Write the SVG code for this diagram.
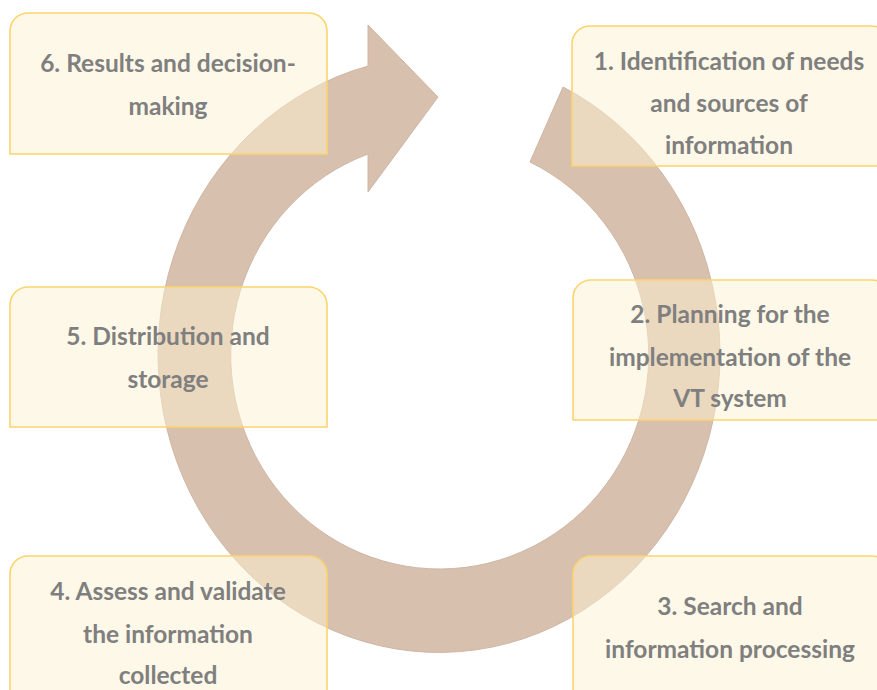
<svg xmlns="http://www.w3.org/2000/svg" width="877" height="690" viewBox="0 0 877 690">
<style>
.box{fill:#fbf1d0;fill-opacity:0.5;stroke:#fbd46e;stroke-width:1.6}
.lbl{font-family:Lato,"Open Sans","Liberation Sans",sans-serif;font-weight:700;font-size:24.5px;fill:#7f7f7f;text-anchor:middle}
.ring{fill:#d8c0ae;stroke:#cfb6a4;stroke-width:1}
</style>
<rect width="877" height="690" fill="#ffffff"/>
<g id="connectors">
<path class="ring" d="M563,87 A281,298 0 1 1 368,66.1 L368,25 L438,97 L368,192 L368,154 A209,214 0 1 0 530,162 Z"/>
</g>
<g id="node6">
<path class="box" d="M10,154 V31 A18,18 0 0 1 28,13 H309 A18,18 0 0 1 327,31 V154 Z"/>
<text class="lbl" x="168" y="72">6. Results and decision-</text>
<text class="lbl" x="168" y="115">making</text>
</g>
<g id="node1">
<path class="box" d="M572,166 V44 A18,18 0 0 1 590,26 H871 A18,18 0 0 1 889,44 V166 Z"/>
<text class="lbl" x="729" y="70">1. Identification of needs</text>
<text class="lbl" x="729" y="112">and sources of</text>
<text class="lbl" x="729" y="154">information</text>
</g>
<g id="node5">
<path class="box" d="M10,427 V305 A18,18 0 0 1 28,287 H309 A18,18 0 0 1 327,305 V427 Z"/>
<text class="lbl" x="168" y="345">5. Distribution and</text>
<text class="lbl" x="168" y="388">storage</text>
</g>
<g id="node2">
<path class="box" d="M573,420 V298 A18,18 0 0 1 591,280 H872 A18,18 0 0 1 890,298 V420 Z"/>
<text class="lbl" x="730" y="323">2. Planning for the</text>
<text class="lbl" x="730" y="366">implementation of the</text>
<text class="lbl" x="730" y="407">VT system</text>
</g>
<g id="node4">
<path class="box" d="M10,700 V574 A18,18 0 0 1 28,556 H309 A18,18 0 0 1 327,574 V700 Z"/>
<text class="lbl" x="168" y="600">4. Assess and validate</text>
<text class="lbl" x="168" y="643">the information</text>
<text class="lbl" x="168" y="684">collected</text>
</g>
<g id="node3">
<path class="box" d="M573,700 V574 A18,18 0 0 1 591,556 H872 A18,18 0 0 1 890,574 V700 Z"/>
<text class="lbl" x="730" y="615">3. Search and</text>
<text class="lbl" x="730" y="658">information processing</text>
</g>
</svg>
